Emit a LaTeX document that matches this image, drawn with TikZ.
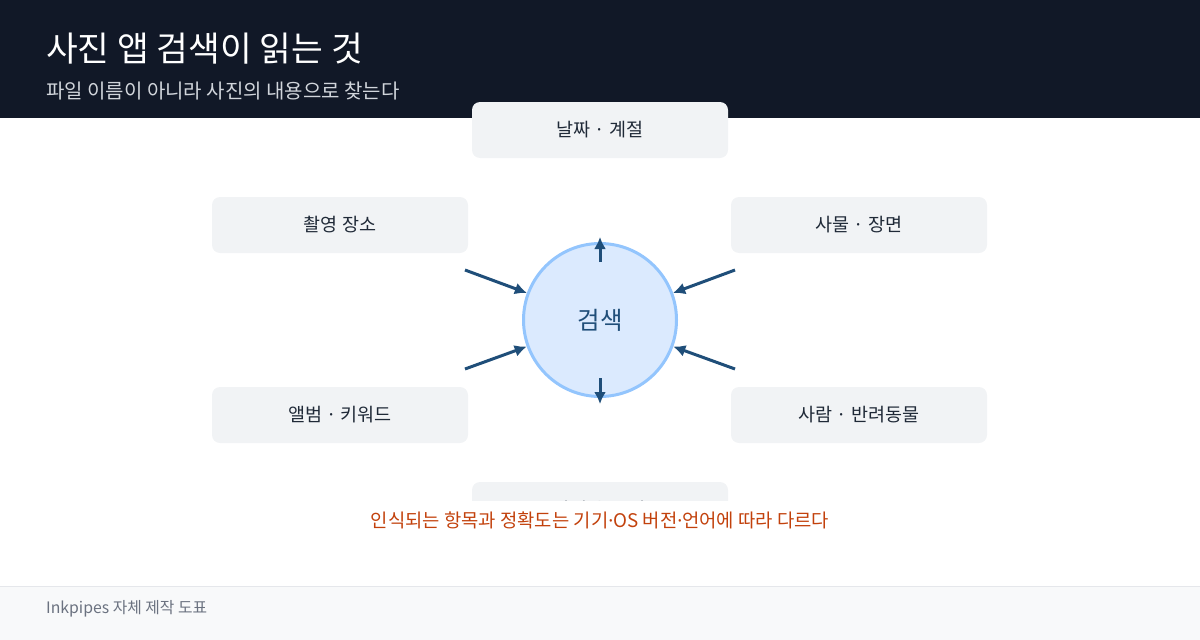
\documentclass[tikz,border=0pt]{standalone}
\usepackage{fontspec}
\setmainfont{Noto Sans CJK KR}
\newfontfamily\latindot{Noto Sans}
\newcommand{\mdot}{{\latindot ·}}
\usetikzlibrary{arrows.meta}
\definecolor{hdrbg}{HTML}{111827}
\definecolor{subgray}{HTML}{D1D5DB}
\definecolor{boxgray}{HTML}{F1F3F5}
\definecolor{boxtext}{HTML}{1F2937}
\definecolor{circfill}{HTML}{DBEAFE}
\definecolor{circline}{HTML}{93C5FD}
\definecolor{arrblue}{HTML}{1F4E79}
\definecolor{noteorange}{HTML}{C2410C}
\definecolor{footbg}{HTML}{F8F9FA}
\definecolor{footline}{HTML}{E5E7EB}
\definecolor{foottext}{HTML}{6B7280}
\tikzset{
  catbox/.style={rounded corners=8pt, fill=boxgray, minimum width=256pt, minimum height=56pt,
    inner sep=0pt, text=boxtext, font=\fontsize{18.5}{22}\selectfont},
  inarrow/.style={-{Latex[length=12pt,width=12pt]}, line width=3pt, draw=arrblue},
}
\begin{document}
\begin{tikzpicture}[x=1pt, y=-1pt]
  \useasboundingbox (0,0) rectangle (1200,640);
  % header
  \fill[hdrbg] (0,0) rectangle (1200,118);
  \node[anchor=west, inner sep=0pt, text=white, font=\fontsize{34.5}{38}\selectfont] (title) at (46,49) {사진 앱 검색이 읽는 것};
  \node[anchor=west, inner sep=0pt, text=subgray, font=\fontsize{20}{24}\selectfont] (subtitle) at (46,91) {파일 이름이 아니라 사진의 내용으로 찾는다};
  % categories
  \node[catbox] (date) at (600,130) {\raisebox{2pt}{날짜 · 계절}};
  \node[catbox] (place) at (340,225) {\raisebox{2pt}{촬영 장소}};
  \node[catbox] (thing) at (859,225) {\raisebox{2pt}{사물 · 장면}};
  \node[catbox] (album) at (340,415) {\raisebox{2pt}{앨범 · 키워드}};
  \node[catbox] (people) at (859,415) {\raisebox{2pt}{사람 · 반려동물}};
  \begin{scope}
    \clip (0,0) rectangle (1200,500);
    \node[catbox] (text) at (600,510) {\raisebox{3pt}{사진 속 글자}};
  \end{scope}
  % centre
  \node[circle, minimum size=153pt, inner sep=0pt, fill=circfill, draw=circline, line width=3pt,
    text=arrblue, font=\fontsize{24.5}{28}\selectfont] (search) at (600,320) {검색};
  \coordinate (lu) at (465,270);
  \coordinate (ll) at (465,369);
  \coordinate (ru) at (735,270);
  \coordinate (rl) at (735,369);
  \draw[inarrow] (lu) -- (search);
  \draw[inarrow] (ll) -- (search);
  \draw[inarrow] (ru) -- (search);
  \draw[inarrow] (rl) -- (search);
  \draw[inarrow] ([yshift=-20pt]search.north) -- ([yshift=5pt]search.north);
  \draw[inarrow] ([yshift=20pt]search.south) -- ([yshift=-6pt]search.south);
  % note
  \node[text=noteorange, font=\fontsize{18.8}{22}\selectfont] (note) at (600,520) {인식되는 항목과 정확도는 기기\mdot OS 버전\mdot 언어에 따라 다르다};
  % footer
  \fill[footbg] (0,586) rectangle (1200,640);
  \draw[footline] (0,586) -- (1200,586);
  \node[anchor=west, inner sep=0pt, text=foottext, font=\fontsize{15.8}{18}\selectfont] (credit) at (46,609) {Inkpipes 자체 제작 도표};
\end{tikzpicture}
\end{document}
